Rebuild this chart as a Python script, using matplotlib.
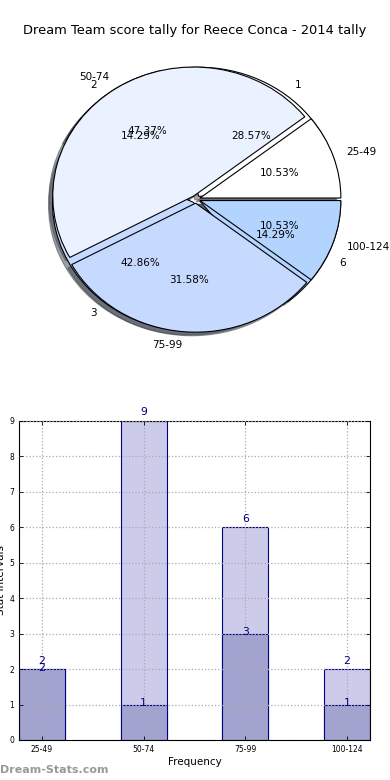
import numpy as np
import matplotlib.pyplot as plt

# Data
intervals = ['25-49', '50-74', '75-99', '100-124']
total_counts = [2, 9, 6, 2]
season_counts = [2, 1, 3, 1]
season_labels = ['1', '2', '3', '6']
pie_colors = ['#ffffff', '#ebf2ff', '#c6d9ff', '#b3d4ff']

fig = plt.figure(figsize=(3.9, 7.8), dpi=100)
fig.text(0.5, 0.961, 'Dream Team score tally for Reece Conca - 2014 tally',
         ha='center', va='center', fontsize=9.4)

# Pie charts (second one sits on top of the first)
ax1 = fig.add_axes([0.069, 0.546, 0.867, 0.397])
wedge_kw = dict(edgecolor='black', linewidth=0.8)
ax1.pie(season_counts, labels=season_labels, colors=pie_colors,
        autopct='%1.2f%%', explode=[0.03] * 4, shadow=True,
        wedgeprops=wedge_kw, textprops=dict(fontsize=7.5))
ax1.pie(total_counts, labels=intervals, colors=pie_colors,
        autopct='%1.2f%%', explode=[0.03] * 4, shadow=True,
        wedgeprops=wedge_kw, textprops=dict(fontsize=7.5))
ax1.set_aspect('auto')
ax1.set_xlim(-1.2, 1.2)
ax1.set_ylim(-1.2, 1.2)
ax1.axis('off')

# Bar chart
ax2 = fig.add_axes([0.0487, 0.0513, 0.9, 0.409])
x = np.arange(len(intervals))
w = 0.45
ax2.bar(x, total_counts, w, color='#ccccea', edgecolor='navy', linewidth=0.8)
ax2.bar(x, season_counts, w, color='#a3a3d0', edgecolor='navy', linewidth=0.8)
for xi, v in zip(x, total_counts):
    ax2.text(xi, v + 0.1, str(v), ha='center', va='bottom', color='navy', fontsize=7.8)
for xi, v in zip(x, season_counts):
    ax2.text(xi, v - 0.1, str(v), ha='center', va='bottom', color='navy', fontsize=7.8)
ax2.set_xlim(-0.225, 3.225)
ax2.set_ylim(0, 9)
ax2.set_xticks(x)
ax2.set_xticklabels(intervals, fontsize=5.5)
ax2.set_yticks(range(10))
ax2.tick_params(axis='y', labelsize=5.5)
ax2.tick_params(direction='in', length=3, top=True, right=True, width=0.6)
ax2.set_axisbelow(False)
ax2.grid(True, linestyle=':', color='#aaaaaa', linewidth=0.9)
ax2.set_xlabel('Frequency', fontsize=7.5, labelpad=2)
ax2.set_ylabel('Stat Intervals', fontsize=7.5, labelpad=2)

fig.text(0.0, 0.013, 'Dream-Stats.com', fontsize=8, color='#999999',
         fontweight='bold', ha='left', va='center')

fig.savefig('out.png', dpi=100)
